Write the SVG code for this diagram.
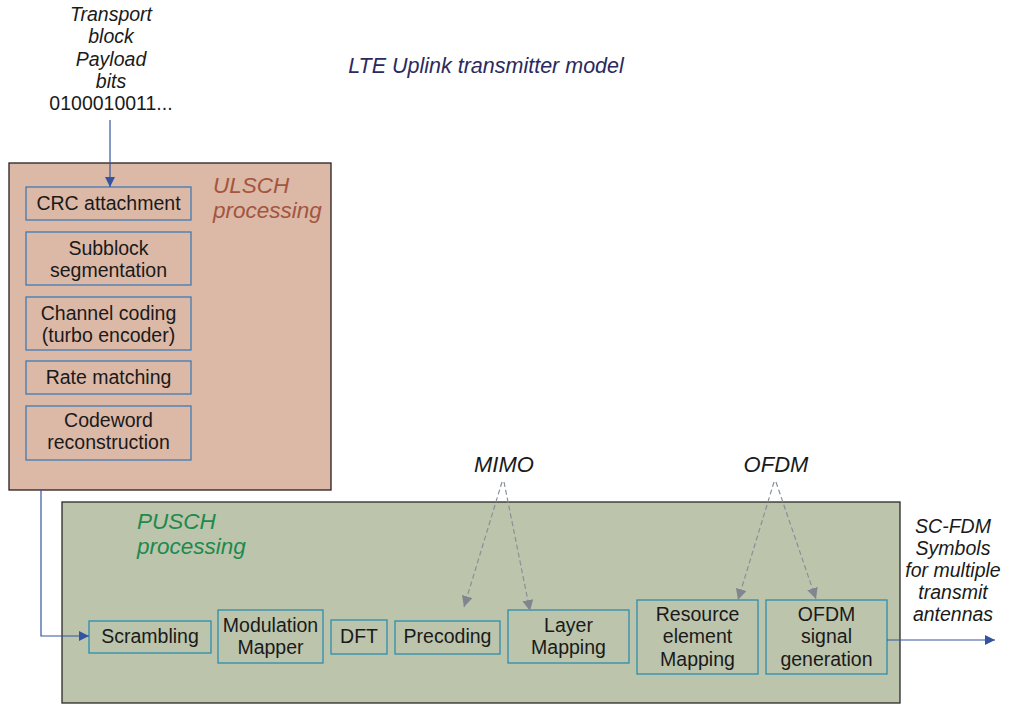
<svg xmlns="http://www.w3.org/2000/svg" width="1016" height="713" viewBox="0 0 1016 713">
<defs>
<style>
text{font-family:"Liberation Sans",Arial,sans-serif;font-size:19.5px;fill:#1a1a1a}
.it{font-style:italic}
.blk{text-anchor:middle}
.ub{fill:none;stroke:#3f7cb4;stroke-width:1.3}
.pb{fill:none;stroke:#2c8fae;stroke-width:1.3}
.conn{fill:none;stroke:#3355a0;stroke-width:1.2}
.dash{fill:none;stroke:#8a8f98;stroke-width:1.2;stroke-dasharray:5,3}
.big{font-size:22px}
.grp{font-size:22.5px}
</style>
<marker id="ah" viewBox="0 0 10 10" refX="10" refY="5" markerWidth="10" markerHeight="10" markerUnits="userSpaceOnUse" orient="auto"><path d="M0,0L10,5L0,10z" fill="#3355a0"/></marker>
<marker id="ahg" viewBox="0 0 10 10" refX="10" refY="5" markerWidth="11" markerHeight="11" markerUnits="userSpaceOnUse" orient="auto"><path d="M0,0L10,5L0,10z" fill="#80868f"/></marker>
</defs>
<rect width="1016" height="713" fill="#fff"/>
<text x="486" y="73" class="blk it" style="font-size:21.5px;fill:#2a2a5e">LTE Uplink transmitter model</text>
<g id="input-label">
<text x="111" y="21" class="blk it">Transport</text>
<text x="111" y="43" class="blk it">block</text>
<text x="111" y="66" class="blk it">Payload</text>
<text x="111" y="88" class="blk it">bits</text>
<text x="111" y="110" class="blk">0100010011...</text>
</g>
<g id="ulsch">
<rect x="9" y="163" width="322" height="327" fill="#dcb8a6" stroke="#2a2020" stroke-width="1.3"/>
<text x="213" y="193" class="it grp" style="fill:#a4553e">ULSCH</text>
<text x="213" y="218" class="it grp" style="fill:#a4553e">processing</text>
</g>
<g id="crc"><rect x="26" y="187" width="165" height="33" class="ub"/><text x="108.5" y="210" class="blk">CRC attachment</text></g>
<g id="subblock"><rect x="26" y="232" width="165" height="53" class="ub"/><text x="108.5" y="255" class="blk">Subblock</text><text x="108.5" y="277" class="blk">segmentation</text></g>
<g id="coding"><rect x="26" y="297" width="165" height="53" class="ub"/><text x="108.5" y="320" class="blk">Channel coding</text><text x="108.5" y="342" class="blk">(turbo encoder)</text></g>
<g id="rate"><rect x="26" y="361" width="165" height="33" class="ub"/><text x="108.5" y="384" class="blk">Rate matching</text></g>
<g id="codeword"><rect x="26" y="406" width="165" height="54" class="ub"/><text x="108.5" y="427" class="blk">Codeword</text><text x="108.5" y="449" class="blk">reconstruction</text></g>
<g id="pusch">
<rect x="62" y="502" width="838" height="201" fill="#bcc4ac" stroke="#2a2a2a" stroke-width="1.3"/>
<text x="137" y="529" class="it grp" style="fill:#1d8a4c">PUSCH</text>
<text x="137" y="554" class="it grp" style="fill:#1d8a4c">processing</text>
</g>
<g id="scrambling"><rect x="89" y="621" width="122" height="32" class="pb"/><text x="150" y="643" class="blk">Scrambling</text></g>
<g id="modmap"><rect x="218" y="610" width="105" height="53" class="pb"/><text x="270.5" y="632" class="blk">Modulation</text><text x="270.5" y="654" class="blk">Mapper</text></g>
<g id="dft"><rect x="331" y="620" width="56" height="34" class="pb"/><text x="359" y="643" class="blk">DFT</text></g>
<g id="precoding"><rect x="395" y="621" width="105" height="33" class="pb"/><text x="447.5" y="643" class="blk">Precoding</text></g>
<g id="layer"><rect x="508" y="610" width="121" height="53" class="pb"/><text x="568.5" y="632" class="blk">Layer</text><text x="568.5" y="654" class="blk">Mapping</text></g>
<g id="remap"><rect x="637" y="600" width="121" height="74" class="pb"/><text x="697.5" y="621" class="blk">Resource</text><text x="697.5" y="643" class="blk">element</text><text x="697.5" y="666" class="blk">Mapping</text></g>
<g id="ofdmgen"><rect x="766" y="600" width="121" height="74" class="pb"/><text x="826.5" y="621" class="blk">OFDM</text><text x="826.5" y="643" class="blk">signal</text><text x="826.5" y="666" class="blk">generation</text></g>
<g id="mimo"><text x="504" y="472" class="blk it big">MIMO</text></g>
<g id="ofdm"><text x="776" y="472" class="blk it big">OFDM</text></g>
<g id="output-label">
<text x="953" y="533" class="blk it">SC-FDM</text>
<text x="953" y="555" class="blk it">Symbols</text>
<text x="953" y="577" class="blk it">for multiple</text>
<text x="953" y="599" class="blk it">transmit</text>
<text x="953" y="621" class="blk it">antennas</text>
</g>
<g id="connectors">
<path d="M110,120V187" class="conn" marker-end="url(#ah)"/>
<path d="M41,490V636H89" class="conn" marker-end="url(#ah)"/>
<path d="M887,640H995" class="conn" marker-end="url(#ah)"/>
<path d="M502,482L464,607" class="dash" marker-end="url(#ahg)"/>
<path d="M504,482L530,611" class="dash" marker-end="url(#ahg)"/>
<path d="M774,482L738,600" class="dash" marker-end="url(#ahg)"/>
<path d="M776,482L816,599" class="dash" marker-end="url(#ahg)"/>
</g>
</svg>
